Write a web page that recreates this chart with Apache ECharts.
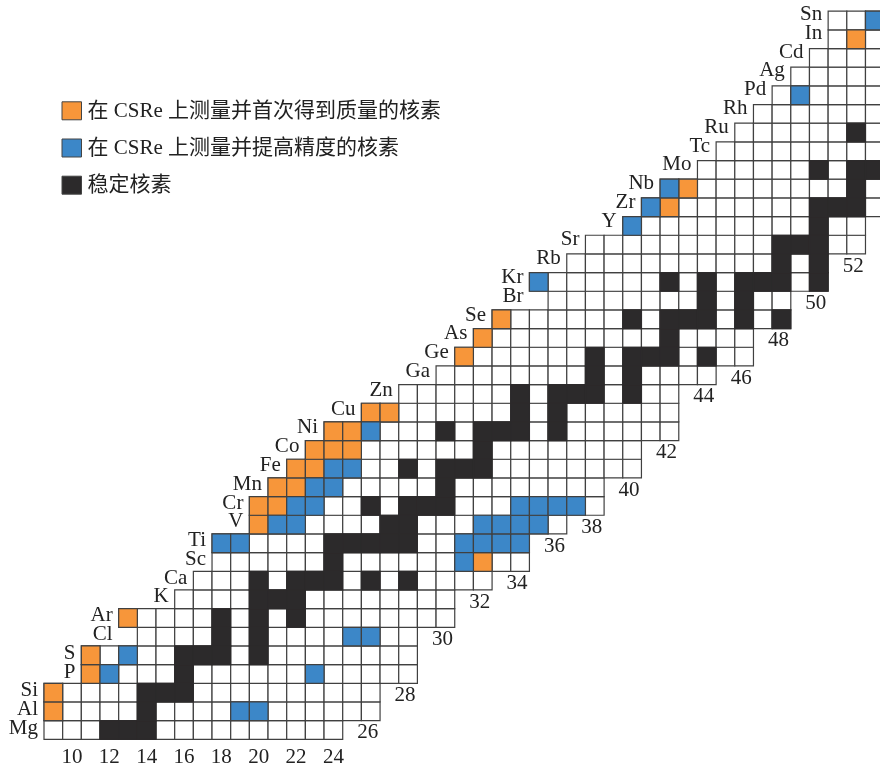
<!DOCTYPE html>
<html>
<head>
<meta charset="utf-8">
<script src="https://cdn.jsdelivr.net/npm/echarts@6/dist/echarts.min.js"></script>
<style>
  html, body { margin: 0; padding: 0; background: #ffffff; }
  #chart { width: 880px; height: 769px; }
</style>
</head>
<body>
<div id="chart"></div>
<script>
// Rows of the nuclide chart: proton number Z, element symbol and the
// first / last neutron number N of the known nuclides in that row.
const protonNumbers = [12, 13, 14, 15, 16, 17, 18, 19, 20, 21, 22, 23, 24, 25, 26, 27, 28, 29, 30,
  31, 32, 33, 34, 35, 36, 37, 38, 39, 40, 41, 42, 43, 44, 45, 46, 47, 48, 49, 50];
const elementSymbols = ['Mg', 'Al', 'Si', 'P', 'S', 'Cl', 'Ar', 'K', 'Ca', 'Sc', 'Ti', 'V', 'Cr', 'Mn',
  'Fe', 'Co', 'Ni', 'Cu', 'Zn', 'Ga', 'Ge', 'As', 'Se', 'Br', 'Kr', 'Rb', 'Sr', 'Y', 'Zr', 'Nb', 'Mo',
  'Tc', 'Ru', 'Rh', 'Pd', 'Ag', 'Cd', 'In', 'Sn'];
const firstNeutron = [9, 9, 9, 11, 11, 14, 13, 16, 17, 18, 18, 20, 20, 21, 22, 23, 24, 26, 28,
  30, 31, 32, 33, 36, 35, 37, 38, 40, 41, 42, 44, 45, 46, 47, 48, 49, 50, 51, 51];
const lastNeutron = [24, 26, 26, 28, 28, 28, 30, 30, 32, 34, 34, 36, 38, 38, 40, 40, 42, 42, 42,
  44, 46, 46, 48, 48, 50, 50, 52, 52, 53, 53, 53, 53, 53, 53, 53, 53, 53, 53, 53];

// Nuclides whose mass was measured for the first time at CSRe, as [N, Z]
const firstMassNuclides = [
  [9, 13], [9, 14], [11, 15], [11, 16], [13, 18],
  [20, 23], [20, 24], [21, 24], [21, 25], [22, 25], [22, 26], [23, 26],
  [23, 27], [24, 27], [25, 27], [24, 28], [25, 28], [26, 29], [27, 29],
  [32, 21], [31, 32], [32, 33], [33, 34], [42, 40], [43, 41], [52, 49]
];

// Nuclides whose mass precision was improved at CSRe, as [N, Z]
const improvedNuclides = [
  [19, 13], [20, 13], [12, 15], [23, 15], [13, 16], [25, 17], [26, 17],
  [18, 22], [19, 22], [31, 22], [32, 22], [33, 22], [34, 22],
  [21, 23], [22, 23], [32, 23], [33, 23], [34, 23], [35, 23],
  [22, 24], [23, 24], [34, 24], [35, 24], [36, 24], [37, 24],
  [23, 25], [24, 25], [24, 26], [25, 26], [26, 28], [31, 21],
  [35, 36], [40, 39], [41, 40], [42, 41], [49, 46], [53, 50]
];

// Stable nuclides, as [N, Z]
const stableNuclides = [
  [12, 12], [13, 12], [14, 12],
  [14, 13],
  [14, 14], [15, 14], [16, 14],
  [16, 15],
  [16, 16], [17, 16], [18, 16], [20, 16],
  [18, 17], [20, 17],
  [18, 18], [20, 18], [22, 18],
  [20, 19], [21, 19], [22, 19],
  [20, 20], [22, 20], [23, 20], [24, 20], [26, 20], [28, 20],
  [24, 21],
  [24, 22], [25, 22], [26, 22], [27, 22], [28, 22],
  [27, 23], [28, 23],
  [26, 24], [28, 24], [29, 24], [30, 24],
  [30, 25],
  [28, 26], [30, 26], [31, 26], [32, 26],
  [32, 27],
  [30, 28], [32, 28], [33, 28], [34, 28], [36, 28],
  [34, 29], [36, 29],
  [34, 30], [36, 30], [37, 30], [38, 30], [40, 30],
  [38, 31], [40, 31],
  [38, 32], [40, 32], [41, 32], [42, 32], [44, 32],
  [42, 33],
  [40, 34], [42, 34], [43, 34], [44, 34], [46, 34], [48, 34],
  [44, 35], [46, 35],
  [42, 36], [44, 36], [46, 36], [47, 36], [48, 36], [50, 36],
  [48, 37], [50, 37],
  [48, 38], [49, 38], [50, 38],
  [50, 39],
  [50, 40], [51, 40], [52, 40],
  [52, 41],
  [50, 42], [52, 42], [53, 42],
  [52, 44]
];

// Neutron-number labels
const neutronTicks = [10, 12, 14, 16, 18, 20, 22, 24, 26, 28, 30, 32, 34, 36, 38, 40, 42, 44, 46, 48, 50, 52];

// Legend entries
const legendLabels = ['在 CSRe 上测量并首次得到质量的核素', '在 CSRe 上测量并提高精度的核素', '稳定核素'];

const COLOR_FIRST = '#F7963A';
const COLOR_IMPROVED = '#3C87C8';
const COLOR_STABLE = '#2C2A2B';
const GRID_LINE = '#404040';
const TEXT_COLOR = '#222222';
const LABEL_FONT = '21px "Liberation Serif", "Times New Roman", serif';

// Every known nuclide cell
const knownNuclides = [];
protonNumbers.forEach((z, i) => {
  for (let n = firstNeutron[i]; n <= lastNeutron[i]; n++) knownNuclides.push([n, z]);
});

// Element symbol placed on the staircase edge: left of the row's first cell,
// or of the row above when that one starts further left
const elementLabelData = protonNumbers.map((z, i) => {
  const above = i + 1 < firstNeutron.length ? firstNeutron[i + 1] : firstNeutron[i];
  return [Math.min(firstNeutron[i], above), z, elementSymbols[i]];
});

// Neutron label placed one row below the lowest cell of its column
const lowestRow = Math.min(...protonNumbers);
const neutronLabelData = neutronTicks.map(n => {
  let zMin = Infinity;
  protonNumbers.forEach((z, i) => {
    if (n >= firstNeutron[i] && n <= lastNeutron[i]) zMin = Math.min(zMin, z);
  });
  return [n, zMin - 1, String(n), zMin === lowestRow ? 1 : 0];
});

function cellSeries(name, data, fill, stroke, z2) {
  return {
    type: 'custom',
    name: name,
    coordinateSystem: 'cartesian2d',
    data: data,
    encode: { x: 0, y: 1 },
    silent: true,
    clip: false,
    z: z2,
    renderItem: function (params, api) {
      const n = api.value(0), zz = api.value(1);
      const p0 = api.coord([n - 0.5, zz + 0.5]);
      const p1 = api.coord([n + 0.5, zz - 0.5]);
      return {
        type: 'rect',
        shape: { x: p0[0], y: p0[1], width: p1[0] - p0[0], height: p1[1] - p0[1] },
        style: { fill: fill, stroke: stroke, lineWidth: 1.2 }
      };
    }
  };
}

const series = [
  cellSeries('known', knownNuclides, '#ffffff', GRID_LINE, 2),
  cellSeries('first', firstMassNuclides, COLOR_FIRST, GRID_LINE, 3),
  cellSeries('improved', improvedNuclides, COLOR_IMPROVED, GRID_LINE, 4),
  cellSeries('stable', stableNuclides, COLOR_STABLE, COLOR_STABLE, 5),
  {
    type: 'custom',
    name: 'elements',
    coordinateSystem: 'cartesian2d',
    data: elementLabelData,
    encode: { x: 0, y: 1 },
    silent: true,
    clip: false,
    z: 6,
    renderItem: function (params, api) {
      const n = api.value(0), zz = api.value(1);
      const p = api.coord([n - 0.5, zz]);
      const dy = -1.5 - 0.12 * (zz - 12);
      return {
        type: 'text',
        style: {
          text: elementLabelData[params.dataIndex][2],
          x: p[0] - 6, y: p[1] + dy,
          align: 'right', verticalAlign: 'middle',
          font: LABEL_FONT, fill: TEXT_COLOR
        }
      };
    }
  },
  {
    type: 'custom',
    name: 'neutrons',
    coordinateSystem: 'cartesian2d',
    data: neutronLabelData,
    encode: { x: 0, y: 1 },
    silent: true,
    clip: false,
    z: 6,
    renderItem: function (params, api) {
      const item = neutronLabelData[params.dataIndex];
      const p = api.coord([item[0], item[1]]);
      const bottom = item[3] === 1;
      return {
        type: 'text',
        style: {
          text: item[2],
          x: p[0] + (bottom ? 0 : -3), y: p[1] + (bottom ? 8.6 : 3),
          align: 'center', verticalAlign: 'middle',
          font: LABEL_FONT, fill: TEXT_COLOR
        }
      };
    }
  }
];

// Legend drawn as swatches with captions
const legendColors = [COLOR_FIRST, COLOR_IMPROVED, COLOR_STABLE];
const legendGraphics = [];
legendLabels.forEach((label, i) => {
  const top = 101.8 + i * 37.2;
  legendGraphics.push({
    type: 'rect',
    shape: { x: 62, y: top, width: 19.5, height: 18 },
    style: { fill: legendColors[i], stroke: '#444444', lineWidth: 1 }
  });
  legendGraphics.push({
    type: 'text',
    style: {
      text: label,
      x: 87.5, y: top + 9.5,
      verticalAlign: 'middle', align: 'left',
      font: '21px "Liberation Serif", "Noto Sans CJK SC", serif',
      fill: TEXT_COLOR
    }
  });
});

// One neutron number spans CELL px; the plot starts at N = 8.5 and runs to the right edge
const CELL = 18.67;
const GRID_LEFT = 44;
const CHART_WIDTH = 880;
const xMax = 8.5 + (CHART_WIDTH - GRID_LEFT) / CELL;

const chart = echarts.init(document.getElementById('chart'), null, { renderer: 'canvas' });
chart.setOption({
  animation: false,
  backgroundColor: '#ffffff',
  grid: { left: GRID_LEFT, top: 11.2, right: 0, height: 728.1, containLabel: false },
  xAxis: { type: 'value', min: 8.5, max: xMax, show: false },
  yAxis: { type: 'value', min: 11.5, max: 50.5, show: false },
  graphic: legendGraphics,
  series: series
});
</script>
</body>
</html>
